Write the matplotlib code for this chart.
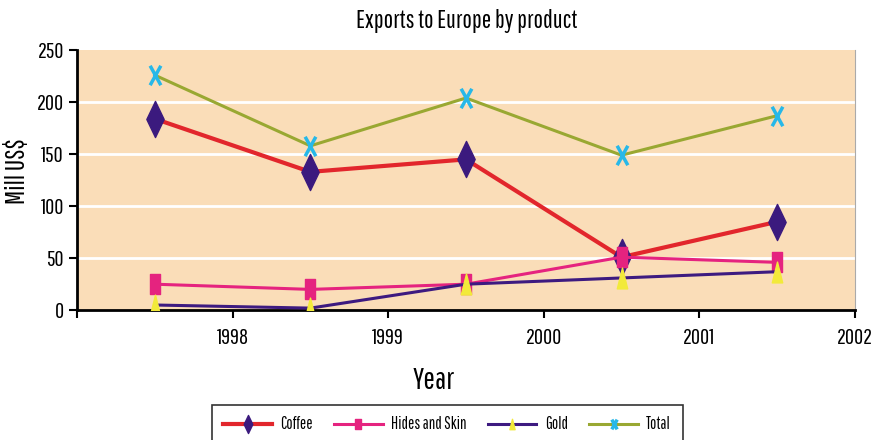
import matplotlib
matplotlib.use("Agg")
import matplotlib.pyplot as plt
import numpy as np
from matplotlib.path import Path

# Data
tick_years = ["", "1998", "1999", "2000", "2001", "2002"]
coffee = [184, 133, 145, 51, 85]
hides_skin = [25, 20, 25, 51, 46]
gold = [5, 2, 25, 31, 37]
total = [226, 158, 204, 149, 187]
y_ticks = [0, 50, 100, 150, 200, 250]

plt.rcParams["font.family"] = ["Pathway Gothic One", "Fira Sans Extra Condensed",
                               "Roboto Condensed", "DejaVu Sans"]

# tall markers like the Excel originals
diamond = Path([(-0.48, 0), (0, 1), (0.48, 0), (0, -1), (-0.48, 0)],
               [Path.MOVETO, Path.LINETO, Path.LINETO, Path.LINETO, Path.CLOSEPOLY])
rect = Path([(-0.55, -1), (0.55, -1), (0.55, 1), (-0.55, 1), (-0.55, -1)],
            [Path.MOVETO, Path.LINETO, Path.LINETO, Path.LINETO, Path.CLOSEPOLY])
tri = Path([(-0.5, -1), (0.5, -1), (0, 1), (-0.5, -1)],
           [Path.MOVETO, Path.LINETO, Path.LINETO, Path.CLOSEPOLY])
cross = Path([(-0.55, 1), (0.55, -1), (-0.55, -1), (0.55, 1)],
             [Path.MOVETO, Path.LINETO, Path.MOVETO, Path.LINETO])

fig = plt.figure(figsize=(8.75, 4.4), dpi=100)
ax = fig.add_axes([0.088, 0.295, 0.889, 0.591])
ax.set_facecolor("#FADDB8")

x = np.arange(len(coffee)) + 0.5

ax.plot(x, coffee, color="#E2262C", lw=3.0, marker=diamond, ms=26,
        mfc="#3B1A7E", mec="#3B1A7E", label="Coffee", zorder=3)
ax.plot(x, hides_skin, color="#E5237F", lw=2.2, marker=rect, ms=14,
        mfc="#E5237F", mec="#E5237F", label="Hides and Skin", zorder=4)
ax.plot(x, gold, color="#3D1A80", lw=2.2, marker=tri, ms=15,
        mfc="#F2EA3A", mec="#F2EA3A", label="Gold", zorder=5)
ax.plot(x, total, color="#99A832", lw=2.2, marker=cross, ms=14,
        mfc="none", mec="#27B8E8", mew=2.5, label="Total", zorder=6)

ax.set_xlim(0, 5)
ax.set_ylim(0, 250)
ax.set_xticks(np.arange(len(tick_years)))
ax.set_xticklabels(tick_years)
ax.set_yticks(y_ticks)
ax.tick_params(axis="both", labelsize=16, length=6, width=1.5, direction="out")
ax.tick_params(axis="x", pad=7)

for yv in y_ticks[1:-1]:
    ax.axhline(yv, color="white", lw=2, zorder=1)

ax.spines["top"].set_visible(False)
ax.spines["right"].set_color("#AAAAAA")
ax.spines["left"].set_linewidth(2)
ax.spines["bottom"].set_linewidth(2)

fig.text(0.533, 0.952, "Exports to Europe by product", ha="center", va="center",
         fontsize=18)
fig.text(0.02, 0.61, "Mill US$", rotation=90, ha="center", va="center",
         fontsize=19)
fig.text(0.496, 0.135, "Year", ha="center", va="center", fontsize=22)

leg = fig.legend(loc="upper center", bbox_to_anchor=(0.511, 0.08), ncol=4,
                 fontsize=12, handlelength=2.9, markerscale=0.5,
                 frameon=True, fancybox=False, edgecolor="black",
                 borderpad=0.7, borderaxespad=0, handletextpad=0.5,
                 columnspacing=1.3)
leg.get_frame().set_linewidth(1.2)

fig.savefig("out.png", dpi=100)
